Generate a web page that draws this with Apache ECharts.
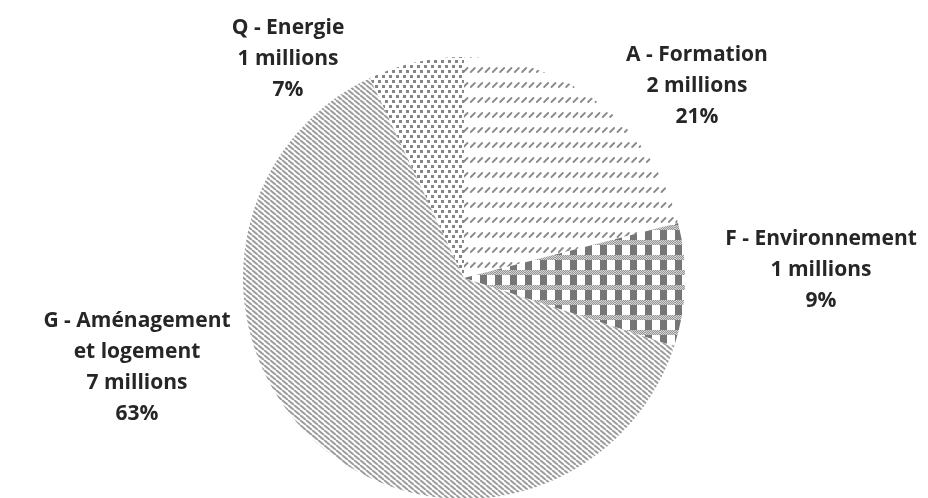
<!DOCTYPE html>
<html>
<head>
<meta charset="utf-8">
<script src="https://cdn.jsdelivr.net/npm/echarts@6/dist/echarts.min.js"></script>
<style>
html,body{margin:0;padding:0;background:#fff;}
#chart{width:928px;height:498px;}
</style>
</head>
<body>
<div id="chart"></div>
<script>
// Data (millions, estimated so that shares match the labels)
var categories = ['A - Formation', 'F - Environnement', 'G - Aménagement\net logement', 'Q - Energie'];
var values = [2.31, 0.99, 6.93, 0.77];

// Label anchor positions (layout/style only)
var labelPos = [[697, 86], [821, 270], [137, 368], [288, 59]];

function tile(w, h, draw) {
  var c = document.createElement('canvas');
  c.width = w; c.height = h;
  var ctx = c.getContext('2d');
  ctx.fillStyle = '#ffffff';
  ctx.fillRect(0, 0, w, h);
  draw(ctx, w, h);
  return { image: c, repeat: 'repeat' };
}

// A: dashed upward diagonal
var patA = tile(22, 15, function (ctx) {
  ctx.strokeStyle = '#8a8a8a';
  ctx.lineWidth = 1.8;
  ctx.lineCap = 'round';
  for (var i = 0; i < 3; i++) {
    var x = i * 7.33 + 1.5;
    ctx.beginPath();
    ctx.moveTo(x, 12);
    ctx.lineTo(x + 4, 8);
    ctx.stroke();
  }
});

// F: plaid (dark vertical bars + light checkered horizontal stripes)
var patF = tile(15, 15, function (ctx) {
  ctx.fillStyle = '#767676';
  ctx.fillRect(0, 0, 7, 15);
  for (var y = 0; y < 5; y++) {
    for (var x = 0; x < 15; x++) {
      ctx.fillStyle = ((x + y) % 2 === 0) ? '#969696' : '#d4d4d4';
      ctx.fillRect(x, y, 1, 1);
    }
  }
});

// G: dense downward diagonal
var patG = tile(6, 5, function (ctx, w, h) {
  ctx.strokeStyle = '#9c9c9c';
  ctx.lineWidth = 2;
  for (var k = -1; k <= 1; k++) {
    ctx.beginPath();
    ctx.moveTo(k * w, 0);
    ctx.lineTo(k * w + w, h);
    ctx.stroke();
  }
});

// Q: staggered small dots
var patQ = tile(7, 10, function (ctx) {
  ctx.fillStyle = '#858585';
  ctx.fillRect(0, 0, 3, 3);
  ctx.fillRect(4, 5, 3, 3);
});

var patterns = [patA, patF, patG, patQ];

var seriesData = categories.map(function (c, i) {
  return { name: c, value: values[i], itemStyle: { color: patterns[i] } };
});

var chart = echarts.init(document.getElementById('chart'), null, { renderer: 'canvas' });
chart.setOption({
  animation: false,
  series: [{
    type: 'pie',
    center: [464, 278],
    radius: 221,
    startAngle: 90,
    clockwise: true,
    percentPrecision: 0,
    silent: true,
    avoidLabelOverlap: false,
    itemStyle: { borderWidth: 0 },
    label: {
      show: true,
      position: 'outside',
      overflow: 'none',
      edgeDistance: 0,
      bleedMargin: 0,
      formatter: function (p) {
        return p.name + '\n' + Math.round(p.value) + ' millions\n' + Math.round(p.percent) + '%';
      },
      fontFamily: '"Open Sans", sans-serif',
      fontWeight: 'bold',
      fontSize: 21,
      lineHeight: 31,
      color: '#262626',
      align: 'center'
    },
    labelLine: { show: false },
    labelLayout: function (params) {
      var p = labelPos[params.dataIndex];
      return { x: p[0], y: p[1], align: 'center', verticalAlign: 'middle' };
    },
    data: seriesData
  }]
});
</script>
</body>
</html>
